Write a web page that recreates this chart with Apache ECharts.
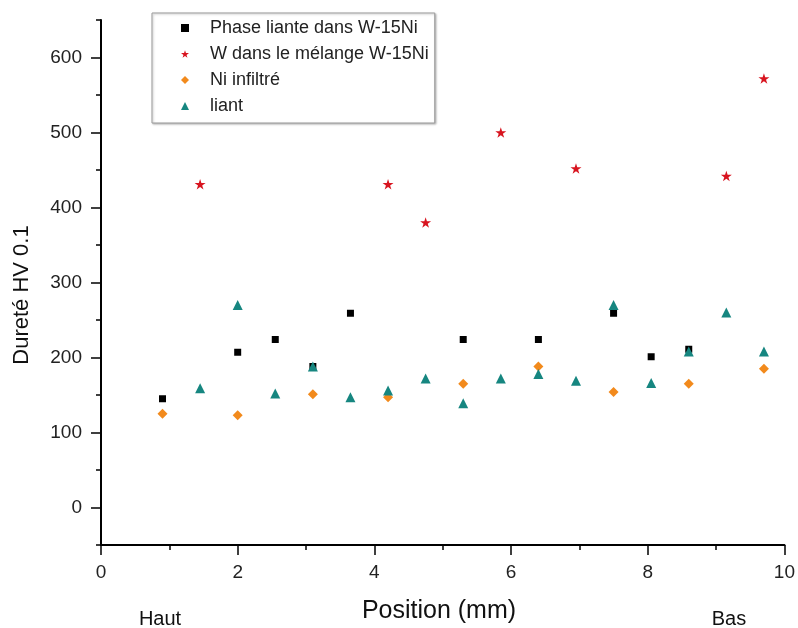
<!DOCTYPE html>
<html>
<head>
<meta charset="utf-8">
<title>Dureté HV 0.1</title>
<script src="https://cdn.jsdelivr.net/npm/echarts@6/dist/echarts.min.js"></script>
<style>
  html, body { margin: 0; padding: 0; background: #fff; }
  #chart { width: 798px; height: 628px; }
</style>
</head>
<body>
<div id="chart"></div>
<script>
// positions (mm) and hardness values
var phaseX = [0.9, 2.0, 2.55, 3.1, 3.65, 5.3, 6.4, 7.5, 8.05, 8.6]
var phaseY = [145, 207, 224, 188, 259, 224, 224, 259, 201, 211]

var wX = [1.45, 4.2, 4.75, 5.85, 6.95, 9.15, 9.7]
var wY = [431, 431, 380, 500, 452, 442, 572]

var niX = [0.9, 2.0, 3.1, 4.2, 5.3, 6.4, 7.5, 8.6, 9.7]
var niY = [125, 123, 151, 147, 165, 188, 154, 165, 185]

var liantX = [1.45, 2.0, 2.55, 3.1, 3.65, 4.2, 4.75, 5.3, 5.85, 6.4, 6.95, 7.5, 8.05, 8.6, 9.15, 9.7]
var liantY = [159, 270, 152, 188, 147, 156, 172, 139, 172, 178, 169, 270, 166, 208, 260, 208]

var seriesNames = ['Phase liante dans W-15Ni', 'W dans le mélange W-15Ni', 'Ni infiltré', 'liant']

// tick labels
var yMajor = [0, 100, 200, 300, 400, 500, 600]
var yMinor = [-50, 50, 150, 250, 350, 450, 550, 650]

function pairs (xs, ys) {
    return xs.map(function (x, i) { return [x, ys[i]] })
}

var FONT = '"Liberation Sans", Arial, sans-serif'
var starPath = 'path://M50 0 L61.17 34.63 L97.55 34.55 L68.07 55.87 L79.39 90.45 L50 69 L20.61 90.45 L31.93 55.87 L2.45 34.55 L38.83 34.63 Z'

var chart = echarts.init(document.getElementById('chart'), null, { renderer: 'canvas' })

var option = {
    backgroundColor: '#fff',
    animation: false,
    textStyle: { fontFamily: FONT },
    grid: { left: 101, right: 12, top: 20, bottom: 83 },
    legend: {
        orient: 'vertical',
        left: 152,
        top: 13,
        data: seriesNames,
        itemWidth: 8,
        itemHeight: 8,
        itemGap: 8,
        symbolKeepAspect: true,
        padding: [6, 6, 8, 29],
        backgroundColor: '#fff',
        borderColor: '#9a9a9a',
        borderWidth: 1,
        shadowColor: 'rgba(0,0,0,0.25)',
        shadowBlur: 2,
        shadowOffsetX: 1,
        shadowOffsetY: 1,
        textStyle: { fontFamily: FONT, fontSize: 18, lineHeight: 18, color: '#222', padding: [0, 0, 0, 16] }
    },
    xAxis: {
        type: 'value',
        min: 0,
        max: 10,
        interval: 2,
        axisLine: { show: true, onZero: false, lineStyle: { color: '#000', width: 2 } },
        axisTick: { show: true, length: 10, lineStyle: { color: '#000', width: 1.5 } },
        minorTick: { show: true, splitNumber: 2, length: 5, lineStyle: { color: '#000', width: 1.5 } },
        axisLabel: { fontFamily: FONT, fontSize: 19, color: '#222', margin: 18 },
        splitLine: { show: false }
    },
    yAxis: [
        {
            type: 'value',
            min: -50,
            max: 650,
            position: 'left',
            axisLine: { show: true, onZero: false, lineStyle: { color: '#000', width: 2 } },
            axisTick: { show: true, customValues: yMajor, length: 10, lineStyle: { color: '#000', width: 1.5 } },
            axisLabel: { customValues: yMajor, fontFamily: FONT, fontSize: 19, color: '#222', margin: 19 },
            splitLine: { show: false }
        },
        {
            type: 'value',
            min: -50,
            max: 650,
            position: 'left',
            offset: 0,
            axisLine: { show: false },
            axisTick: { show: true, customValues: yMinor, length: 5, lineStyle: { color: '#000', width: 1.5 } },
            axisLabel: { show: false },
            splitLine: { show: false }
        }
    ],
    series: [
        {
            name: seriesNames[0],
            type: 'scatter',
            symbol: 'rect',
            symbolSize: 7,
            itemStyle: { color: '#000', opacity: 1 },
            data: pairs(phaseX, phaseY),
            z: 2
        },
        {
            name: seriesNames[1],
            type: 'scatter',
            symbol: starPath,
            symbolSize: 11,
            symbolKeepAspect: true,
            itemStyle: { color: '#d8141f', opacity: 1 },
            data: pairs(wX, wY),
            z: 2
        },
        {
            name: seriesNames[2],
            type: 'scatter',
            symbol: 'diamond',
            symbolSize: 10,
            itemStyle: { color: '#f28a1c', opacity: 1 },
            data: pairs(niX, niY),
            z: 3
        },
        {
            name: seriesNames[3],
            type: 'scatter',
            symbol: 'triangle',
            symbolSize: 10,
            itemStyle: { color: '#168680', opacity: 1 },
            data: pairs(liantX, liantY),
            z: 4
        }
    ],
    graphic: [
        {
            type: 'text',
            x: 22,
            y: 295,
            rotation: Math.PI / 2,
            style: { text: 'Dureté HV 0.1', font: '22px ' + FONT, fill: '#111', textAlign: 'center', textVerticalAlign: 'middle' }
        },
        {
            type: 'text',
            x: 439,
            y: 611,
            style: { text: 'Position (mm)', font: '25px ' + FONT, fill: '#111', textAlign: 'center', textVerticalAlign: 'middle' }
        },
        {
            type: 'text',
            x: 160,
            y: 619,
            style: { text: 'Haut', font: '20px ' + FONT, fill: '#111', textAlign: 'center', textVerticalAlign: 'middle' }
        },
        {
            type: 'text',
            x: 729,
            y: 619,
            style: { text: 'Bas', font: '20px ' + FONT, fill: '#111', textAlign: 'center', textVerticalAlign: 'middle' }
        }
    ]
}

chart.setOption(option)
</script>
</body>
</html>
